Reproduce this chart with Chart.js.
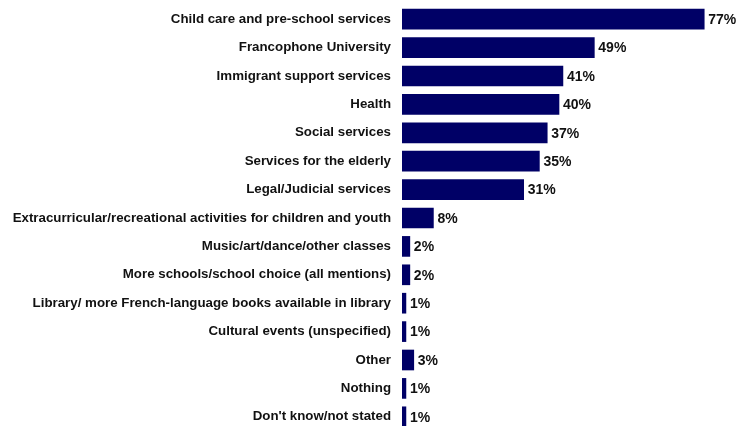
<!DOCTYPE html>
<html>
<head>
<meta charset="utf-8">
<script src="https://cdn.jsdelivr.net/npm/chart.js@4"></script>
<style>
  html, body { margin: 0; padding: 0; background: #ffffff; overflow: hidden; }
  #wrap { width: 737px; height: 426px; overflow: hidden; }
</style>
</head>
<body>
<div id="wrap"><canvas id="chart" width="737" height="431"></canvas></div>
<script>
const categories = [
    'Child care and pre-school services',
    'Francophone University',
    'Immigrant support services',
    'Health',
    'Social services',
    'Services for the elderly',
    'Legal/Judicial services',
    'Extracurricular/recreational activities for children and youth',
    'Music/art/dance/other classes',
    'More schools/school choice (all mentions)',
    'Library/ more French-language books available in library',
    'Cultural events (unspecified)',
    'Other',
    'Nothing',
    "Don't know/not stated"
];
const values = [77, 49, 41, 40, 37, 35, 31, 8, 2, 2, 1, 1, 3, 1, 1];

// value labels at the end of each bar
const barLabels = {
    id: 'barLabels',
    afterDatasetsDraw(chart) {
        const ctx = chart.ctx;
        const meta = chart.getDatasetMeta(0);
        ctx.save();
        ctx.font = 'bold 14px "Liberation Sans", Arial, sans-serif';
        ctx.fillStyle = '#111111';
        ctx.textBaseline = 'middle';
        ctx.textAlign = 'left';
        meta.data.forEach((bar, i) => {
            ctx.fillText(values[i] + '%', bar.x + 4, bar.y + 1);
        });
        ctx.restore();
    }
};

const c = document.getElementById('chart').getContext('2d');
new Chart(c, {
    type: 'bar',
    data: {
        labels: categories,
        datasets: [{
            data: values,
            backgroundColor: '#000066',
            borderWidth: 0,
            barThickness: 20
        }]
    },
    options: {
        indexAxis: 'y',
        responsive: false,
        animation: false,
        layout: { padding: { top: 5, right: 21, bottom: 0, left: 0 } },
        plugins: {
            legend: { display: false },
            tooltip: { enabled: false }
        },
        scales: {
            x: {
                display: false,
                min: 0,
                max: 80
            },
            y: {
                grid: { display: false, drawTicks: false },
                border: { display: false },
                afterFit(axis) {
                    axis.width = 402;
                    axis.paddingTop = 0;
                    axis.paddingBottom = 0;
                },
                ticks: {
                    color: '#111111',
                    padding: 11,
                    autoSkip: false,
                    font: { family: '"Liberation Sans", Arial, sans-serif', size: 13.3, weight: 'bold' }
                }
            }
        }
    },
    plugins: [barLabels]
});
</script>
</body>
</html>
